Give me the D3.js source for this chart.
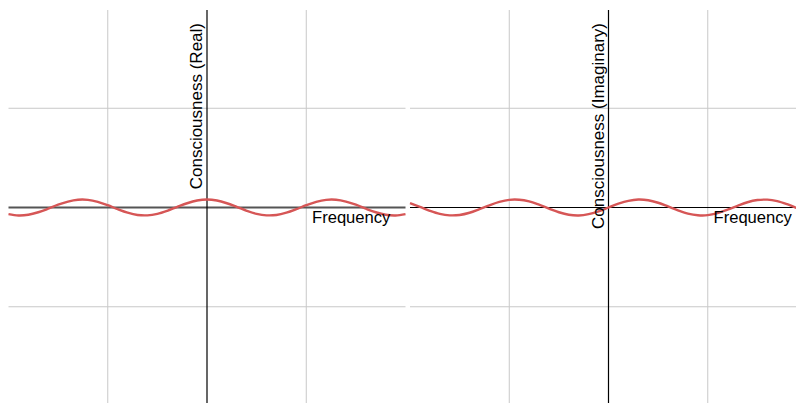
<!DOCTYPE html>
<html>
<head>
<meta charset="utf-8">
<script src="https://cdn.jsdelivr.net/npm/d3@7"></script>
<style>
  html, body { margin: 0; padding: 0; background: #fff; }
  svg { display: block; }
  text { font-family: "Liberation Sans", Arial, Helvetica, sans-serif; fill: #000; }
</style>
</head>
<body>
<svg id="chart" width="796" height="403"></svg>
<script>
// ---- data ----
const frequency = [-2.0,-1.9,-1.8,-1.7,-1.6,-1.5,-1.4,-1.3,-1.2,-1.1,-1.0,-0.9,-0.8,-0.7,-0.6,-0.5,-0.4,-0.3,-0.2,-0.1,
                    0.0,0.1,0.2,0.3,0.4,0.5,0.6,0.7,0.8,0.9,1.0,1.1,1.2,1.3,1.4,1.5,1.6,1.7,1.8,1.9,2.0];
const realValues = [-0.067,-0.080,-0.073,-0.048,-0.012,0.028,0.060,0.078,0.077,0.057,0.023,-0.017,-0.052,-0.075,-0.079,-0.064,-0.033,0.006,0.043,0.070,
                    0.080,0.070,0.043,0.006,-0.033,-0.064,-0.079,-0.075,-0.052,-0.017,0.023,0.057,0.077,0.078,0.060,0.028,-0.012,-0.048,-0.073,-0.080,-0.067];
const imagValues = [0.044,0.006,-0.033,-0.064,-0.079,-0.075,-0.053,-0.017,0.022,0.056,0.077,0.078,0.061,0.028,-0.011,-0.048,-0.073,-0.080,-0.067,-0.038,
                    0.000,0.038,0.067,0.080,0.073,0.048,0.011,-0.028,-0.061,-0.078,-0.077,-0.056,-0.022,0.017,0.053,0.075,0.079,0.064,0.033,-0.006,-0.044];
const gridTicks = [-1, 0, 1];
const xDomain = [-2, 2];
const yDomain = [-2, 2];
const panels = [
  { name: "real", values: realValues, yLabel: "Consciousness (Real)", xLabel: "Frequency" },
  { name: "imag", values: imagValues, yLabel: "Consciousness (Imaginary)", xLabel: "Frequency" }
];

// ---- layout ----
const svg = d3.select("#chart");
const panelX = [[8.5, 405.5], [410, 807]];
const panelY = [406, 9];
const red = "#d65656";

panels.forEach((p, i) => {
  const x = d3.scaleLinear().domain(xDomain).range(panelX[i]);
  const y = d3.scaleLinear().domain(yDomain).range(panelY);
  const g = svg.append("g");

  // grid
  gridTicks.filter(t => t !== 0).forEach(t => {
    g.append("line").attr("x1", x(t)).attr("x2", x(t)).attr("y1", y(2) + 1).attr("y2", y(-2))
      .attr("stroke", "#c8c8c8").attr("stroke-width", 1);
    g.append("line").attr("x1", x(-2)).attr("x2", x(2)).attr("y1", y(t)).attr("y2", y(t))
      .attr("stroke", "#c8c8c8").attr("stroke-width", 1);
  });

  // horizontal axis
  if (i === 0) {
    g.append("line").attr("x1", x(-2)).attr("x2", x(2)).attr("y1", y(0)).attr("y2", y(0))
      .attr("stroke", "#555").attr("stroke-width", 2);
  } else {
    g.append("line").attr("x1", x(-2)).attr("x2", x(2)).attr("y1", y(0)).attr("y2", y(0))
      .attr("stroke", "#000").attr("stroke-width", 1);
  }
  // vertical axis
  g.append("line").attr("x1", x(0)).attr("x2", x(0)).attr("y1", y(2) + 1).attr("y2", y(-2))
    .attr("stroke", "#000").attr("stroke-width", 1.2);

  // curve
  const line = d3.line()
    .x((d, k) => x(frequency[k]))
    .y(d => y(d))
    .curve(d3.curveCatmullRom);
  g.append("path").datum(p.values).attr("d", line)
    .attr("fill", "none").attr("stroke", red).attr("stroke-width", 2.4);

  // labels
  g.append("text").attr("x", x(0) + 105).attr("y", y(0) + 15)
    .attr("font-size", 16.6).text(p.xLabel);
  g.append("text")
    .attr("transform", `translate(${x(0) - 5},23) rotate(-90)`)
    .attr("text-anchor", "end")
    .attr("font-size", 17)
    .text(p.yLabel);
});
</script>
</body>
</html>
